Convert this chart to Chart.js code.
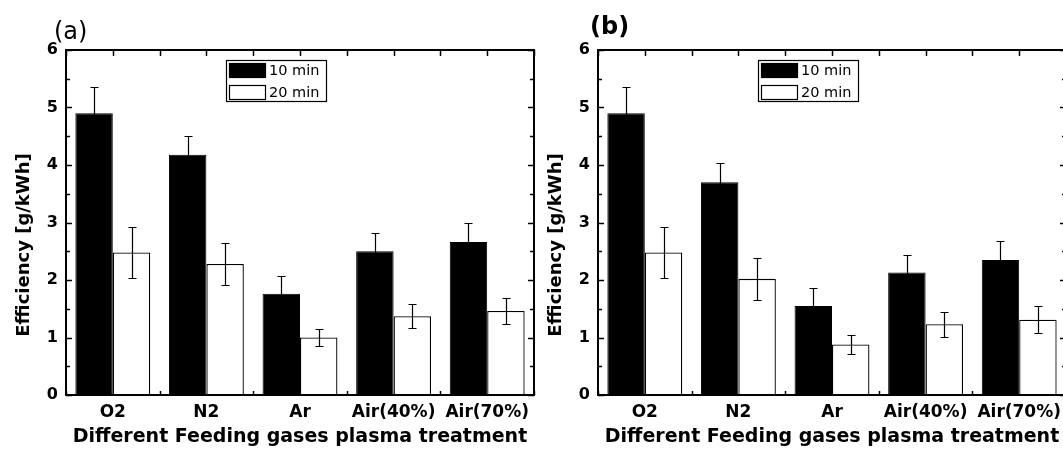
<!DOCTYPE html>
<html>
<head>
<meta charset="utf-8">
<script src="https://cdn.jsdelivr.net/npm/chart.js@4.4.1/dist/chart.umd.min.js"></script>
<style>
  html, body { margin: 0; padding: 0; background: #fff; width: 1063px; height: 450px; overflow: hidden; }
  canvas { position: absolute; top: 0; }
  #cA { left: 0px; }
  #cB { left: 540px; }
</style>
</head>
<body>
<canvas id="cA" width="560" height="450"></canvas>
<canvas id="cB" width="560" height="450"></canvas>
<script>
// ---- data ----
const categories = ['O2', 'N2', 'Ar', 'Air(40%)', 'Air(70%)'];
const seriesLabels = ['10 min', '20 min'];
const yTicks = [0, 1, 2, 3, 4, 5, 6];

const a10 = [4.90, 4.18, 1.76, 2.50, 2.66];
const a10Err = [0.46, 0.32, 0.31, 0.32, 0.34];
const a20 = [2.48, 2.28, 1.00, 1.37, 1.46];
const a20Err = [0.45, 0.36, 0.15, 0.21, 0.22];

const b10 = [4.90, 3.70, 1.55, 2.13, 2.35];
const b10Err = [0.46, 0.33, 0.31, 0.31, 0.32];
const b20 = [2.48, 2.02, 0.88, 1.23, 1.31];
const b20Err = [0.45, 0.37, 0.165, 0.22, 0.23];

const xTitle = 'Different Feeding gases plasma treatment';
const yTitle = 'Efficiency [g/kWh]';

// ---- plugins ----
const errorBarsPlugin = {
  id: 'errorBars',
  afterDatasetsDraw(chart, args, opts) {
    const ctx = chart.ctx;
    const y = chart.scales.y;
    ctx.save();
    ctx.strokeStyle = '#000';
    ctx.lineWidth = 1.2;
    chart.data.datasets.forEach((ds, i) => {
      const meta = chart.getDatasetMeta(i);
      const errs = opts.errors[i];
      meta.data.forEach((el, j) => {
        const v = ds.data[j], e = errs[j];
        const x = Math.round(el.x) + 0.5;
        const yt = Math.round(y.getPixelForValue(v + e)) + 0.5, yb = Math.round(y.getPixelForValue(v - e)) + 0.5;
        ctx.beginPath();
        ctx.moveTo(x, yt); ctx.lineTo(x, yb);
        ctx.moveTo(x - 4, yt); ctx.lineTo(x + 4, yt);
        ctx.moveTo(x - 4, yb); ctx.lineTo(x + 4, yb);
        ctx.stroke();
      });
    });
    ctx.restore();
  }
};

const framePlugin = {
  id: 'frame',
  afterDraw(chart, args, opts) {
    const ctx = chart.ctx;
    const {left, right, top, bottom} = chart.chartArea;
    const xs = chart.scales.x, ys = chart.scales.y;
    ctx.save();
    ctx.strokeStyle = '#000';
    // ticks
    ctx.lineWidth = 1.5;
    ctx.beginPath();
    for (let v = ys.min; v <= ys.max + 1e-9; v += 0.5) {
      const py = Math.round(ys.getPixelForValue(v)) + 0.5;
      const len = (Math.abs(v - Math.round(v)) < 1e-9) ? 6 : 4;
      ctx.moveTo(left, py); ctx.lineTo(left + len, py);
      ctx.moveTo(right, py); ctx.lineTo(right - len, py);
    }
    const n = chart.data.labels.length;
    for (let k = -0.5; k <= n - 0.5 + 1e-9; k += 0.5) {
      const px = Math.round(xs.getPixelForValue(k)) + 0.5;
      ctx.moveTo(px, top); ctx.lineTo(px, top + 6);
      if (Math.abs(k - Math.round(k)) > 1e-9) {
        ctx.moveTo(px, bottom); ctx.lineTo(px, bottom - 4);
      }
    }
    ctx.stroke();
    // frame
    ctx.lineWidth = 2;
    ctx.strokeRect(left, top, right - left, bottom - top);
    // y title
    ctx.fillStyle = '#000';
    ctx.font = 'bold 18px "DejaVu Sans"';
    ctx.textAlign = 'center';
    ctx.textBaseline = 'middle';
    ctx.translate(left - 42, 245);
    ctx.rotate(-Math.PI / 2);
    ctx.fillText(opts.yTitle, 0, 0);
    ctx.restore();
    // panel label
    ctx.save();
    ctx.fillStyle = '#000';
    ctx.font = opts.panelFont;
    ctx.textAlign = 'left';
    ctx.textBaseline = 'middle';
    ctx.fillText(opts.panel, opts.panelX, opts.panelY);
    ctx.restore();
  }
};

const boxLegendPlugin = {
  id: 'boxLegend',
  afterDraw(chart) {
    const ctx = chart.ctx;
    const {left, top} = chart.chartArea;
    const bx = left + 160, by = top + 10, bw = 100, bh = 41;
    ctx.save();
    ctx.fillStyle = '#fff';
    ctx.fillRect(bx, by, bw, bh);
    ctx.strokeStyle = '#000';
    ctx.lineWidth = 1.2;
    ctx.strokeRect(bx + 0.5, by + 0.5, bw, bh);
    chart.data.datasets.forEach((ds, i) => {
      const sy = by + 3 + i * 22;
      ctx.fillStyle = ds.backgroundColor;
      ctx.fillRect(bx + 3, sy, 37, 15);
      ctx.strokeStyle = '#000';
      ctx.lineWidth = 1.2;
      ctx.strokeRect(bx + 3.5, sy + 0.5, 36, 14);
      ctx.fillStyle = '#000';
      ctx.font = '14.5px "DejaVu Sans"';
      ctx.textAlign = 'left';
      ctx.textBaseline = 'middle';
      ctx.fillText(ds.label, bx + 43, sy + 8);
    });
    ctx.restore();
  }
};

function makeChart(id, d10, e10, d20, e20, yWidth, rightPad, panel, panelFont, panelX, panelY) {
  return new Chart(document.getElementById(id), {
    type: 'bar',
    data: {
      labels: categories,
      datasets: [
        { label: seriesLabels[0], data: d10, backgroundColor: '#000', borderColor: '#000', borderWidth: 1,
          categoryPercentage: 0.8, barPercentage: 1.0 },
        { label: seriesLabels[1], data: d20, backgroundColor: '#fff', borderColor: '#000', borderWidth: 1.3,
          categoryPercentage: 0.8, barPercentage: 1.0 }
      ]
    },
    options: {
      responsive: false,
      animation: false,
      devicePixelRatio: 1,
      layout: { padding: { left: 0, right: rightPad, top: 50, bottom: 0 } },
      plugins: {
        legend: { display: false },
        tooltip: { enabled: false },
        errorBars: { errors: [e10, e20] },
        frame: { yTitle: yTitle, panel: panel, panelFont: panelFont, panelX: panelX, panelY: panelY }
      },
      scales: {
        x: {
          type: 'category',
          offset: true,
          grid: { display: false, drawTicks: false },
          border: { display: false },
          ticks: { color: '#000', padding: 7, font: { family: '"DejaVu Sans"', size: 17, weight: 'bold' }, maxRotation: 0, autoSkip: false },
          title: { display: true, text: xTitle, color: '#000', padding: { top: 0, bottom: 2 },
                   font: { family: '"DejaVu Sans"', size: 19, weight: 'bold' } },
          afterFit(s) { s.height = 55; }
        },
        y: {
          min: yTicks[0],
          max: yTicks[yTicks.length - 1],
          grid: { display: false, drawTicks: false },
          border: { display: false },
          afterBuildTicks(s) { s.ticks = yTicks.map(v => ({ value: v })); },
          ticks: { color: '#000', padding: 8, font: { family: '"DejaVu Sans"', size: 16, weight: 'bold' } },
          afterFit(s) { s.width = yWidth; }
        }
      }
    },
    plugins: [errorBarsPlugin, framePlugin, boxLegendPlugin]
  });
}

makeChart('cA', a10, a10Err, a20, a20Err, 66, 26, '(a)', '24px "DejaVu Sans"', 54, 33);
makeChart('cB', b10, b10Err, b20, b20Err, 58, 34, '(b)', 'bold 24px "DejaVu Sans"', 50, 28);
</script>
</body>
</html>
